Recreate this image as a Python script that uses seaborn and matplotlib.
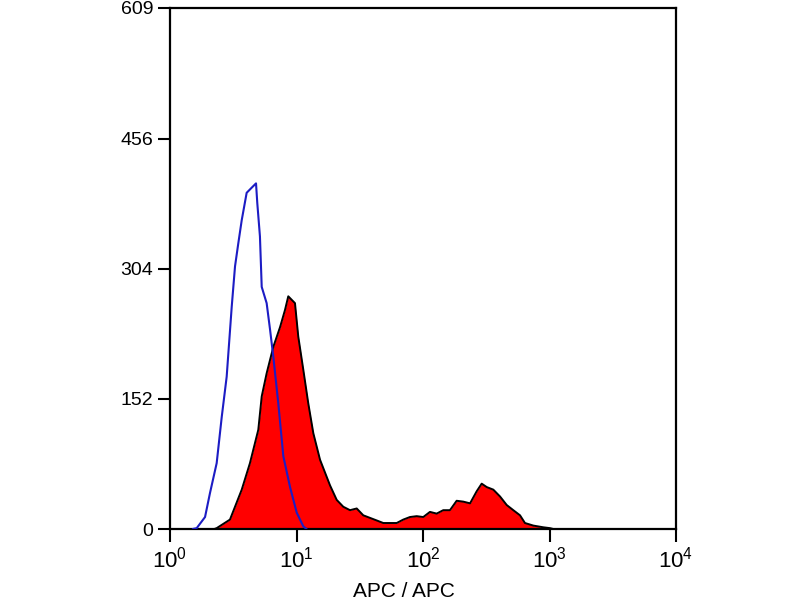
import numpy as np
import pandas as pd
import matplotlib
matplotlib.use("Agg")
import matplotlib.pyplot as plt
import seaborn as sns
from matplotlib.ticker import FixedLocator, NullLocator, LogFormatterSciNotation

# ---- data ----
# positions in decades (log10 of APC intensity) and event counts
iso_log = [0.18, 0.211, 0.277, 0.316, 0.369, 0.409, 0.448, 0.488, 0.514, 0.540,
           0.567, 0.606, 0.646, 0.680, 0.690, 0.711, 0.725, 0.764, 0.791, 0.817,
           0.856, 0.896, 0.949, 1.002, 1.054, 1.08]
iso_count = [0, 1, 14, 42, 77, 131, 178, 260, 307, 334,
             361, 393, 399, 404, 381, 342, 283, 264, 233, 201,
             147, 85, 49, 19, 3, 0]

apc_log = [0.35, 0.369, 0.474, 0.567, 0.632, 0.698, 0.725, 0.764, 0.817, 0.870,
           0.909, 0.935, 0.988, 1.014, 1.054, 1.093, 1.133, 1.186, 1.265, 1.318,
           1.370, 1.423, 1.476, 1.528, 1.581, 1.634, 1.686, 1.739, 1.792, 1.844,
           1.897, 1.950, 2.002, 2.055, 2.108, 2.160, 2.213, 2.266, 2.318, 2.372,
           2.424, 2.464, 2.504, 2.556, 2.609, 2.662, 2.714, 2.767, 2.806, 2.872,
           2.951, 3.004, 3.03]
apc_count = [0, 1, 11, 46, 77, 116, 155, 182, 213, 236,
             256, 272, 264, 225, 186, 147, 112, 81, 51, 34,
             26, 22, 24, 16, 13, 10, 7, 7, 7, 11,
             14, 15, 14, 20, 18, 22, 22, 33, 32, 30,
             44, 53, 49, 46, 38, 28, 22, 16, 7, 4,
             2, 1, 0]

y_ticks = [0, 152, 304, 456, 609]
x_ticks = [1, 10, 100, 1000, 10000]
x_label = "APC / APC"

# ---- plotting ----
sns.set_style("ticks")
plt.rcParams["font.family"] = ["Liberation Sans", "DejaVu Sans"]
plt.rcParams["text.color"] = "black"
plt.rcParams["axes.labelcolor"] = "black"
plt.rcParams["xtick.color"] = "black"
plt.rcParams["ytick.color"] = "black"

fig = plt.figure(figsize=(8, 6), dpi=100)
ax = fig.add_axes([170 / 800, 71 / 600, 506 / 800, 521 / 600])

iso = pd.DataFrame({"x": np.power(10.0, iso_log), "y": iso_count})
apc = pd.DataFrame({"x": np.power(10.0, apc_log), "y": apc_count})

ax.fill_between(apc["x"], apc["y"], color="#ff0000", lw=0, zorder=2)
sns.lineplot(data=apc, x="x", y="y", ax=ax, color="black", lw=1.4,
             sort=True, estimator=None, zorder=3)
sns.lineplot(data=iso, x="x", y="y", ax=ax, color="#1c1cc4", lw=1.5,
             sort=True, estimator=None, zorder=4)

ax.set_xscale("log")
ax.set_xlim(1, 10000)
ax.set_ylim(0, 609)
ax.xaxis.set_major_locator(FixedLocator(x_ticks))
ax.xaxis.set_major_formatter(LogFormatterSciNotation())
ax.xaxis.set_minor_locator(NullLocator())
ax.yaxis.set_major_locator(FixedLocator(y_ticks))
ax.set_yticklabels([str(v) for v in y_ticks])

for s in ax.spines.values():
    s.set_visible(True)
    s.set_linewidth(1.6)
    s.set_color("black")

ax.tick_params(axis="both", which="major", direction="out", length=9,
               width=1.5, color="black", labelcolor="black")
ax.tick_params(axis="x", labelsize=16, pad=4)
ax.tick_params(axis="y", labelsize=14, pad=3)

ax.set_xlabel(x_label, fontsize=15, color="black")
ax.set_ylabel("")
ax.xaxis.set_label_coords((404 - 170) / 506, (529 - 582) / 521)
ax.xaxis.label.set_va("top")

fig.savefig("out.png", dpi=100)
